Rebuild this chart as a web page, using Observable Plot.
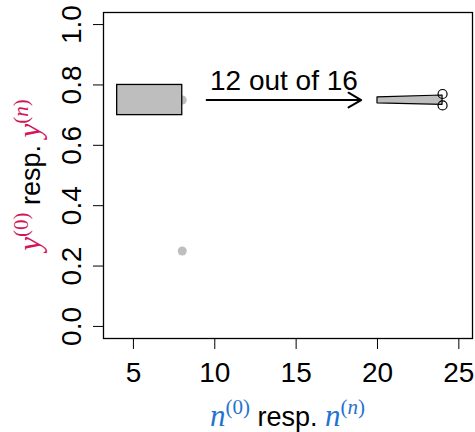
<!DOCTYPE html>
<html>
<head>
<meta charset="utf-8">
<script src="https://cdn.jsdelivr.net/npm/d3@7"></script>
<script src="https://cdn.jsdelivr.net/npm/@observablehq/plot@0.6"></script>
<style>
  html, body { margin: 0; padding: 0; background: #fff; }
  #chart svg { display: block; }
</style>
</head>
<body>
<div id="chart"></div>
<script>
// Prior box: sample size range and response range
const boxN = [4, 8];
const boxY = [0.7, 0.8];

// Grey reference points
const refN = [8, 8];
const refY = [0.75, 0.25];

// Updated band after observing the data
const bandN = [20, 24];
const bandLower = [0.739, 0.734];
const bandUpper = [0.759, 0.765];

// Open circles at the end of the band
const endN = [24, 24];
const endY = [0.770, 0.732];

// Arrow and its annotation
const arrowFrom = 9.5;
const arrowTo = 19;
const arrowY = 0.75;
const arrowLabel = "12 out of 16";

// Axis ticks
const xTicks = [5, 10, 15, 20, 25];
const yTicks = [0, 0.2, 0.4, 0.6, 0.8, 1.0];

const W = 475, H = 432;
const mL = 103, mR = 3, mT = 12, mB = 94;
const sans = "'Liberation Sans', Arial, Helvetica, sans-serif";
const serif = "'Liberation Serif', 'Times New Roman', serif";
const red = "#d3155a";
const blue = "#1f74d0";
const grey = "#bebebe";
const fs = 28;

const box = [{x1: boxN[0], x2: boxN[1], y1: boxY[0], y2: boxY[1]}];
const refPts = refN.map((n, i) => ({n, y: refY[i]}));
const band = bandN.map((n, i) => ({n, lo: bandLower[i], hi: bandUpper[i]}));
const endPts = endN.map((n, i) => ({n, y: endY[i]}));

const plot = Plot.plot({
  width: W,
  height: H,
  marginLeft: mL,
  marginRight: mR,
  marginTop: mT,
  marginBottom: mB,
  style: {fontFamily: sans, fontSize: `${fs}px`, background: "#fff", color: "#000"},
  x: {domain: [3.16, 25.84]},
  y: {domain: [-0.04, 1.04]},
  marks: [
    Plot.axisX({ticks: xTicks, tickSize: 11, tickPadding: 13, fontSize: fs, tickFormat: d => String(d), label: null, stroke: "#000"}),
    Plot.axisY({ticks: yTicks, tickSize: 10, tickPadding: 13, tickRotate: -90, fontSize: fs, tickFormat: d3.format(".1f"), label: null, stroke: "#000"}),
    Plot.dot(refPts, {x: "n", y: "y", r: 4.5, fill: grey, stroke: null}),
    Plot.rect(box, {x1: "x1", x2: "x2", y1: "y1", y2: "y2", fill: grey, stroke: "#000", strokeWidth: 1.3}),
    Plot.areaY(band, {x: "n", y1: "lo", y2: "hi", fill: grey, stroke: "#000", strokeWidth: 1.2}),
    Plot.dot(endPts, {x: "n", y: "y", r: 4.5, fill: "none", stroke: "#000", strokeWidth: 1.2}),
    Plot.arrow([{x1: arrowFrom, x2: arrowTo, y: arrowY}], {x1: "x1", x2: "x2", y1: "y", y2: "y", stroke: "#000", strokeWidth: 2, headLength: 11, headAngle: 60}),
    Plot.text([{x: (arrowFrom + arrowTo) / 2, y: arrowY, t: arrowLabel}], {x: "x", y: "y", text: "t", lineAnchor: "bottom", dy: -10, fontSize: fs, fill: "#000"}),
    Plot.frame({stroke: "#000", strokeWidth: 1.3})
  ]
});

document.getElementById("chart").appendChild(plot);

// Axis titles with math-style symbols
const svg = d3.select(plot);

function buildTitle(parent, sym, color, transform) {
  const t = parent.append("text")
    .attr("transform", transform)
    .attr("text-anchor", "middle")
    .attr("font-size", 27)
    .attr("font-family", sans)
    .attr("fill", "#000");
  const add = (txt, opts = {}) => {
    const s = t.append("tspan").text(txt);
    for (const [k, v] of Object.entries(opts)) s.attr(k, v);
    return s;
  };
  const symStyle = {"font-family": serif, "font-style": "italic", fill: color, "font-size": 31};
  const supStyle = {"font-family": serif, fill: color, "font-size": 21};
  add(sym, symStyle);
  add("(0)", {...supStyle, dy: -12});
  add(" resp. ", {dy: 12});
  add(sym, symStyle);
  add("(", {...supStyle, dy: -12});
  add("n", {...supStyle, "font-style": "italic"});
  add(")", supStyle);
}

buildTitle(svg, "n", blue, `translate(${(mL + W - mR) / 2},426)`);
buildTitle(svg, "y", red, `translate(40,${(mT + H - mB) / 2}) rotate(-90)`);
</script>
</body>
</html>
